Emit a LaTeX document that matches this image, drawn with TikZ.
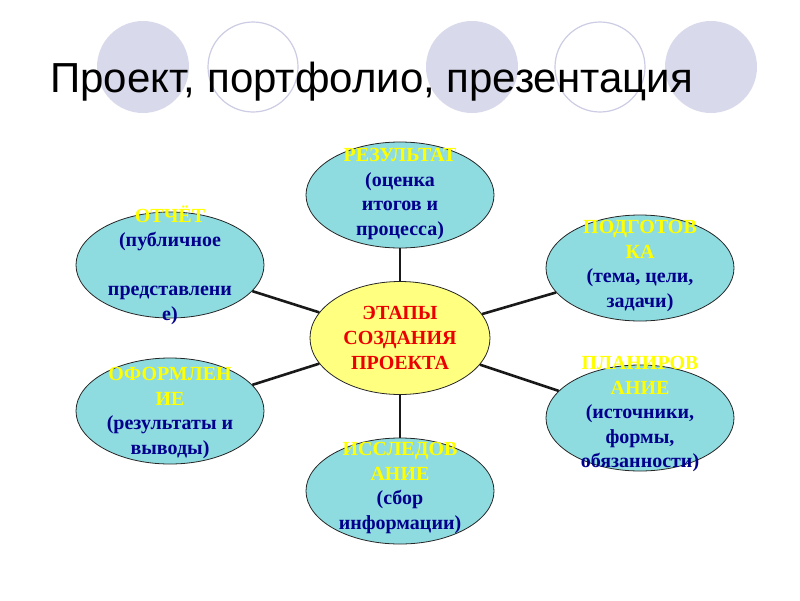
\documentclass[tikz,border=0pt]{standalone}
\usepackage{fontspec}
\setmainfont{Liberation Serif}
\newfontfamily\titlefont{Liberation Sans}
\usetikzlibrary{shapes.geometric}

\definecolor{ringlav}{RGB}{217,217,236}
\definecolor{ringline}{RGB}{204,204,228}
\definecolor{stagefill}{RGB}{143,220,224}
\definecolor{hubfill}{RGB}{255,255,128}
\definecolor{stagehead}{RGB}{255,255,0}
\definecolor{stageblue}{RGB}{0,0,140}
\definecolor{hubred}{RGB}{235,0,0}

\newcommand{\hd}[1]{\textcolor{stagehead}{#1}}

\begin{document}
\begin{tikzpicture}[
        x=1pt,
        y=-1pt,
        stagenode/.style={ellipse, draw=black!85, line width=0.8pt, fill=stagefill,
            minimum width=188pt, minimum height=106pt, inner sep=0pt},
        hubnode/.style={ellipse, draw=black!85, line width=0.8pt, fill=hubfill,
            minimum width=180pt, minimum height=113pt, inner sep=0pt},
        stagetxt/.style={align=center, text=stageblue,
            font=\fontsize{20}{24.5}\selectfont\bfseries},
        hubtxt/.style={align=center, text=hubred,
            font=\fontsize{20}{25}\selectfont\bfseries},
        spoke/.style={line width=2.6pt, black!90}
    ]
        \useasboundingbox (0,0) rectangle (800,600);
        \fill[white] (0,0) rectangle (800,600);

        % Circles behind the title
        \fill[ringlav] (143,67) circle (46);
        \draw[ringline, line width=1.2pt] (253,67) circle (45);
        \fill[ringlav] (472,67) circle (46);
        \draw[ringline, line width=1.2pt] (600,67) circle (45);
        \fill[ringlav] (711,67) circle (46);

        % Title
        \node[anchor=base west, inner sep=0pt, font=\titlefont\fontsize{42}{50}\selectfont]
            (title) at (50,92) {Проект, портфолио, презентация};

        % Ellipses
        \node[hubnode] (hub) at (400,338) {};
        \node[stagenode] (res) at (400,195) {};
        \node[stagenode] (rep) at (170,265) {};
        \node[stagenode] (prep) at (640,268) {};
        \node[stagenode] (plan) at (640,418) {};
        \node[stagenode] (form) at (170,411) {};
        \node[stagenode] (res2) at (400,491) {};

        % Spokes
        \draw[spoke] (hub) -- (res);
        \draw[spoke] (hub) -- (rep);
        \draw[spoke] (hub) -- (prep);
        \draw[spoke] (hub) -- (plan);
        \draw[spoke] (hub) -- (form);
        \draw[spoke] (hub) -- (res2);

        % Texts
        \node[hubtxt] (hub-t) at (400,338) {ЭТАПЫ\\СОЗДАНИЯ\\ПРОЕКТА};
        \node[stagetxt] (res-t) at (400,194) {\hd{РЕЗУЛЬТАТ}\\(оценка\\итогов и\\процесса)};
        \node[stagetxt] (rep-t) at (170,265) {\hd{ОТЧЁТ}\\(публичное\\\mbox{}\\представлени\\е)};
        \node[stagetxt] (prep-t) at (640,266) {\hd{ПОДГОТОВ}\\\hd{КА}\\(тема, цели,\\задачи)};
        \node[stagetxt] (plan-t) at (640,414) {\hd{ПЛАНИРОВ}\\\hd{АНИЕ}\\(источники,\\формы,\\обязанности)};
        \node[stagetxt] (form-t) at (170,413) {\hd{ОФОРМЛЕН}\\\hd{ИЕ}\\(результаты и\\выводы)};
        \node[stagetxt] (res2-t) at (400,488) {\hd{ИССЛЕДОВ}\\\hd{АНИЕ}\\(сбор\\информации)};
    \end{tikzpicture}
\end{document}
